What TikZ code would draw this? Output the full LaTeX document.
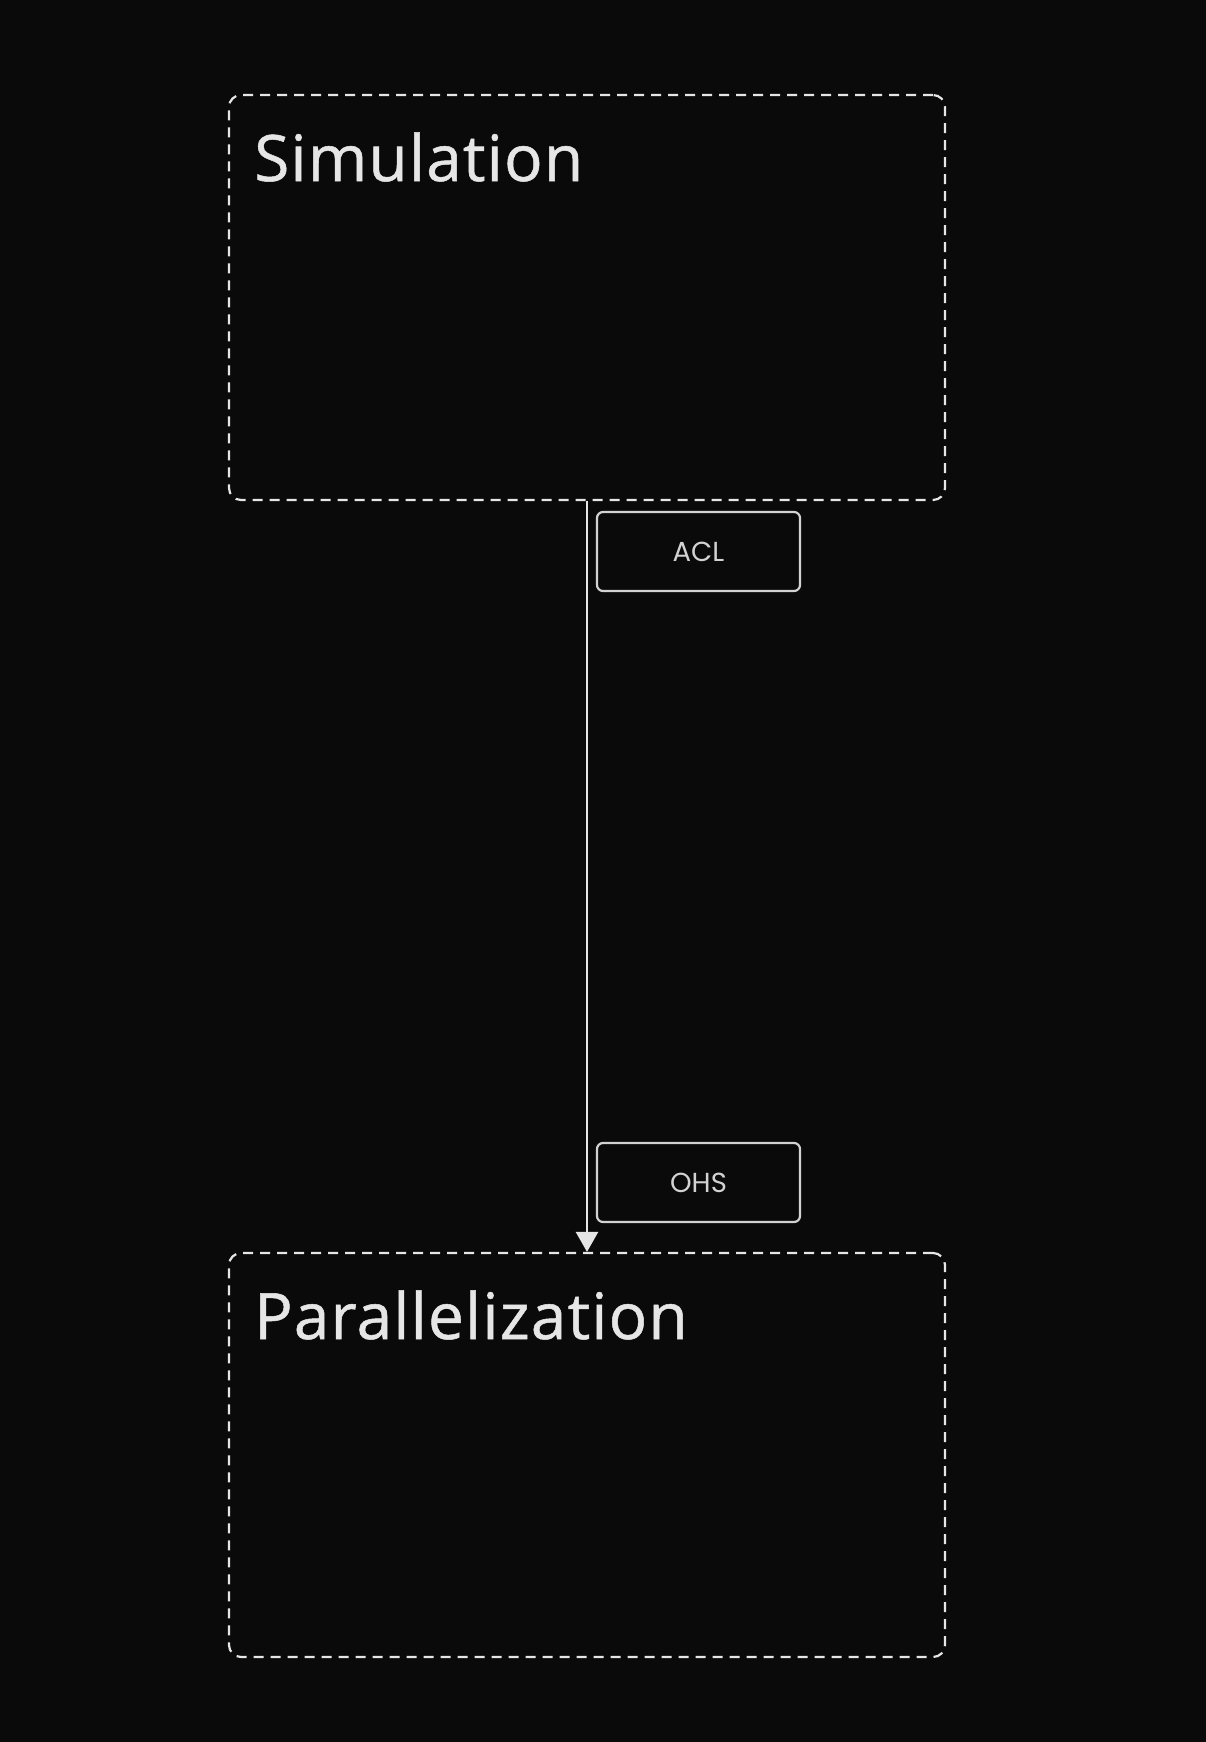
\documentclass[tikz,border=0pt]{standalone}
\usepackage{fontspec}
\setmainfont{Open Sans}[Ligatures=NoCommon, LetterSpace=1.8, FakeBold=0.8]
\newfontfamily\tagfont{Poppins}
\usetikzlibrary{arrows.meta}
\definecolor{bg}{HTML}{0A0A0A}
\definecolor{fg}{HTML}{E6E6E6}
\definecolor{lbl}{HTML}{D2D2D2}
\tikzset{
  zone/.style={draw=fg, line width=2.2pt, dash pattern=on 10pt off 7pt, rounded corners=12pt, inner sep=0pt},
  zonetitle/.style={anchor=base west, inner sep=0pt, text=fg, font=\fontsize{64}{70}\selectfont},
  tagbox/.style={draw=lbl, line width=2.2pt, rounded corners=6pt, minimum width=203pt, minimum height=79pt, inner sep=0pt, text=lbl, font=\tagfont\fontsize{27.5}{30}\selectfont},
  flow/.style={draw=fg, line width=2.6pt, -{Triangle[length=20pt,width=22pt]}}
}
\begin{document}
\begin{tikzpicture}[x=1pt,y=-1pt]
\fill[bg] (0,0) rectangle (1206,1742);
\useasboundingbox (0,0) rectangle (1206,1742);
\node[zone, minimum width=716pt, minimum height=405pt] (sim) at (587,297.5) {};
\node[zonetitle] (simt) at (254,181) {Simulation};
\node[zone, minimum width=716pt, minimum height=404pt] (par) at (587,1455) {};
\node[zonetitle] (part) at (254,1339) {Parallelization};
\node[tagbox] (acl) at (698.5,551.5) {ACL};
\node[tagbox] (ohs) at (698.5,1182.5) {OHS};
\draw[flow] (sim.south) -- (par.north);
\end{tikzpicture}
\end{document}
